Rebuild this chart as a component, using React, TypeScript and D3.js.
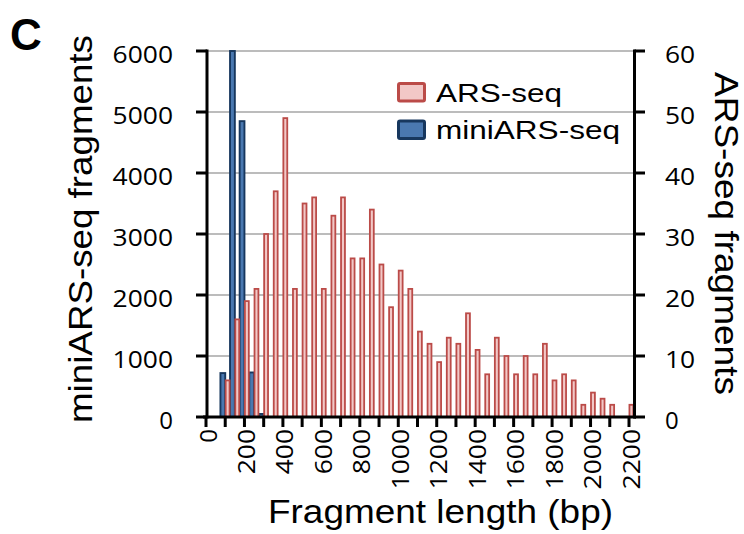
import React, { useRef, useEffect } from "react";
import { select, scaleLinear } from "d3";

// fragment length bins (bp) and counts
const arsBins = [
  100, 150, 200, 250, 300, 350, 400, 450, 500, 550, 600, 650, 700, 750, 800,
  850, 900, 950, 1000, 1050, 1100, 1150, 1200, 1250, 1300, 1350, 1400, 1450,
  1500, 1550, 1600, 1650, 1700, 1750, 1800, 1850, 1900, 1950, 2000, 2050, 2100,
  2150, 2200,
];
const arsCounts = [
  6, 16, 19, 21, 30, 37, 49, 21, 35, 36, 21, 33, 36, 26, 26, 34, 25, 18, 24, 21,
  14, 12, 9, 13, 12, 17, 11, 7, 13, 10, 7, 10, 7, 12, 6, 7, 6, 2, 4, 3, 2, 0, 2,
];
const miniBins = [100, 150, 200, 250, 300];
const miniCounts = [720, 6000, 4850, 730, 50];

const leftTicks = [0, 1000, 2000, 3000, 4000, 5000, 6000];
const rightTicks = [0, 10, 20, 30, 40, 50, 60];
const xTicks = [
  0, 100, 200, 300, 400, 500, 600, 700, 800, 900, 1000, 1100, 1200, 1300, 1400,
  1500, 1600, 1700, 1800, 1900, 2000, 2100, 2200,
];
const xLabels = [0, 200, 400, 600, 800, 1000, 1200, 1400, 1600, 1800, 2000, 2200];

const W = 744;
const H = 534;
const SANS = "'Liberation Sans', Arial, sans-serif";
const TICK_FONT = "'Open Sans', 'Noto Sans', sans-serif";

function FragmentChart() {
  const svgRef = useRef(null);

  useEffect(() => {
    const svg = select(svgRef.current);
    svg.selectAll("*").remove();

    const AX_L = 207;
    const AX_R = 634.5;
    const x = scaleLinear().domain([0, 2200]).range([206, 629]);
    const yLeft = scaleLinear().domain([0, 6000]).range([417, 51]);
    const yRight = scaleLinear().domain([0, 60]).range([417, 51]);
    const digitW = 15.1;

    // gridlines
    svg.selectAll(".grid")
      .data(leftTicks.filter((t) => t > 0))
      .join("line")
      .attr("class", "grid")
      .attr("x1", AX_L)
      .attr("x2", AX_R)
      .attr("y1", (d) => yLeft(d))
      .attr("y2", (d) => yLeft(d))
      .attr("stroke", "#a6a6a6")
      .attr("stroke-width", 1.5);

    // miniARS-seq bars (left axis), drawn underneath
    const mini = miniBins.map((b, i) => ({ b, v: miniCounts[i] }));
    svg.selectAll(".mini")
      .data(mini)
      .join("rect")
      .attr("class", "mini")
      .attr("x", (d) => x(d.b) - 4.8)
      .attr("width", 4.8)
      .attr("y", (d) => yLeft(d.v))
      .attr("height", (d) => yLeft(0) - yLeft(d.v))
      .attr("fill", "#4a78b0")
      .attr("stroke", "#17375e")
      .attr("stroke-width", 1.9);

    // ARS-seq bars (right axis)
    const ars = arsBins.map((b, i) => ({ b, v: arsCounts[i] })).filter((d) => d.v > 0);
    svg.selectAll(".ars")
      .data(ars)
      .join("rect")
      .attr("class", "ars")
      .attr("x", (d) => x(d.b) + 0.45)
      .attr("width", 3.9)
      .attr("y", (d) => yRight(d.v))
      .attr("height", (d) => yRight(0) - yRight(d.v))
      .attr("fill", "#f2c8c7")
      .attr("stroke", "#bb4b48")
      .attr("stroke-width", 1.8);

    // axes frame
    const axisColor = "#000";
    svg.append("line")
      .attr("x1", AX_L).attr("x2", AX_L)
      .attr("y1", 49.5).attr("y2", 418.5)
      .attr("stroke", axisColor).attr("stroke-width", 3);
    svg.append("line")
      .attr("x1", AX_R).attr("x2", AX_R)
      .attr("y1", 49.5).attr("y2", 418.5)
      .attr("stroke", axisColor).attr("stroke-width", 3);
    svg.append("line")
      .attr("x1", 203).attr("x2", AX_R + 1.5)
      .attr("y1", 417).attr("y2", 417)
      .attr("stroke", axisColor).attr("stroke-width", 3);

    // left ticks + labels
    svg.selectAll(".ltick")
      .data(leftTicks)
      .join("line")
      .attr("class", "ltick")
      .attr("x1", 196).attr("x2", AX_L)
      .attr("y1", (d) => yLeft(d)).attr("y2", (d) => yLeft(d))
      .attr("stroke", axisColor).attr("stroke-width", 3);
    svg.selectAll(".llab")
      .data(leftTicks)
      .join("text")
      .attr("class", "llab")
      .attr("x", 173)
      .attr("y", (d) => yLeft(d) + 12.3)
      .attr("text-anchor", "end")
      .attr("font-family", TICK_FONT)
      .attr("font-size", 24)
      .attr("textLength", (d) => (String(d).length > 1 ? digitW * String(d).length : null))
      .attr("lengthAdjust", "spacingAndGlyphs")
      .text((d) => d);

    // right ticks + labels
    svg.selectAll(".rtick")
      .data(rightTicks)
      .join("line")
      .attr("class", "rtick")
      .attr("x1", AX_R).attr("x2", 645)
      .attr("y1", (d) => yRight(d)).attr("y2", (d) => yRight(d))
      .attr("stroke", axisColor).attr("stroke-width", 3);
    svg.selectAll(".rlab")
      .data(rightTicks)
      .join("text")
      .attr("class", "rlab")
      .attr("x", 665)
      .attr("y", (d) => yRight(d) + 12.3)
      .attr("font-family", TICK_FONT)
      .attr("font-size", 24)
      .attr("textLength", (d) => (String(d).length > 1 ? digitW * String(d).length : null))
      .attr("lengthAdjust", "spacingAndGlyphs")
      .text((d) => d);

    // x ticks + rotated labels
    svg.selectAll(".xtick")
      .data(xTicks)
      .join("line")
      .attr("class", "xtick")
      .attr("x1", (d) => x(d)).attr("x2", (d) => x(d))
      .attr("y1", 417).attr("y2", 427)
      .attr("stroke", axisColor).attr("stroke-width", 3);
    svg.selectAll(".xlab")
      .data(xLabels)
      .join("text")
      .attr("class", "xlab")
      .attr("transform", (d) => `translate(${x(d) + 10.5},429) rotate(-90)`)
      .attr("text-anchor", "end")
      .attr("font-family", TICK_FONT)
      .attr("font-size", 24)
      .attr("textLength", (d) => (String(d).length > 1 ? digitW * String(d).length : null))
      .attr("lengthAdjust", "spacingAndGlyphs")
      .text((d) => d);

    // axis titles
    svg.append("text")
      .attr("x", 440.5).attr("y", 523)
      .attr("text-anchor", "middle")
      .attr("font-family", SANS).attr("font-size", 33)
      .attr("textLength", 345).attr("lengthAdjust", "spacingAndGlyphs")
      .text("Fragment length (bp)");
    svg.append("text")
      .attr("transform", "translate(92,229) rotate(-90)")
      .attr("text-anchor", "middle")
      .attr("font-family", SANS).attr("font-size", 33)
      .attr("textLength", 388).attr("lengthAdjust", "spacingAndGlyphs")
      .text("miniARS-seq fragments");
    svg.append("text")
      .attr("transform", "translate(715,233.5) rotate(90)")
      .attr("text-anchor", "middle")
      .attr("font-family", SANS).attr("font-size", 33)
      .attr("textLength", 323).attr("lengthAdjust", "spacingAndGlyphs")
      .text("ARS-seq fragments");

    // panel letter
    svg.append("text")
      .attr("x", 10).attr("y", 50)
      .attr("font-family", SANS).attr("font-size", 44).attr("font-weight", "bold")
      .text("C");

    // legend
    const legend = [
      { label: "ARS-seq", fill: "#f2c8c7", stroke: "#bb4b48", y: 83.5, len: 126 },
      { label: "miniARS-seq", fill: "#4a78b0", stroke: "#17375e", y: 121, len: 184 },
    ];
    const lg = svg.selectAll(".leg").data(legend).join("g").attr("class", "leg");
    lg.append("rect")
      .attr("x", 398.5).attr("y", (d) => d.y)
      .attr("width", 26).attr("height", 17.5)
      .attr("rx", 1.5)
      .attr("fill", (d) => d.fill)
      .attr("stroke", (d) => d.stroke)
      .attr("stroke-width", 3);
    lg.append("text")
      .attr("x", 436).attr("y", (d) => d.y + 18)
      .attr("font-family", SANS).attr("font-size", 25.5)
      .attr("textLength", (d) => d.len).attr("lengthAdjust", "spacingAndGlyphs")
      .text((d) => d.label);
  }, []);

  return (
    <svg
      ref={svgRef}
      width={W}
      height={H}
      style={{ position: "absolute", left: 0, top: 0, background: "#fff" }}
    ></svg>
  );
}

export default function App() {
  return <FragmentChart />;
}
